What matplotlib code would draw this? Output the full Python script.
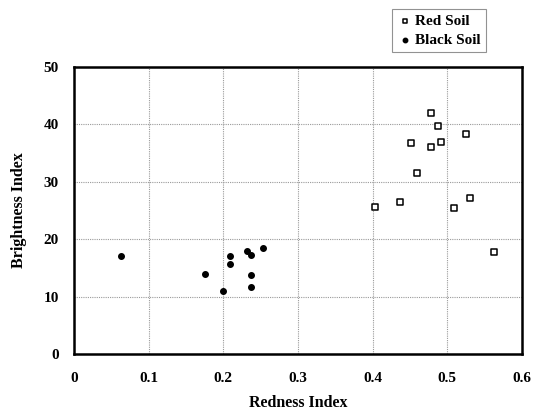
import matplotlib
matplotlib.use("Agg")
import matplotlib.pyplot as plt

plt.rcParams['font.family'] = ['Liberation Serif', 'DejaVu Serif']
plt.rcParams['font.weight'] = 'bold'

red_x = [0.478, 0.487, 0.525, 0.451, 0.491, 0.478, 0.460, 0.403, 0.437, 0.509, 0.530, 0.562]
red_y = [41.9, 39.7, 38.3, 36.7, 37.0, 36.1, 31.6, 25.6, 26.5, 25.5, 27.1, 17.8]

black_x = [0.063, 0.176, 0.199, 0.209, 0.209, 0.232, 0.237, 0.237, 0.237, 0.253]
black_y = [17.0, 14.0, 11.0, 17.0, 15.6, 18.0, 17.2, 13.8, 11.6, 18.5]

x_ticks = [0, 0.1, 0.2, 0.3, 0.4, 0.5, 0.6]
x_labels = ['0', '0.1', '0.2', '0.3', '0.4', '0.5', '0.6']
y_ticks = [0, 10, 20, 30, 40, 50]

fig = plt.figure(figsize=(5.39, 4.13), dpi=100)
ax = fig.add_axes([74/539, 59/413, 448/539, 287/413])

ax.scatter(red_x, red_y, marker='s', s=20, facecolors='white', edgecolors='black',
           linewidths=1.1, label='Red Soil', zorder=3)
ax.scatter(black_x, black_y, marker='o', s=16, color='black', label='Black Soil', zorder=3)

ax.set_xlim(0, 0.6)
ax.set_ylim(0, 50)
ax.set_xticks(x_ticks)
ax.set_xticklabels(x_labels)
ax.set_yticks(y_ticks)
ax.grid(True, color='#9a9a9a', linestyle=(0, (1, 1)), linewidth=0.8)
ax.set_axisbelow(True)
ax.tick_params(axis='x', length=0, pad=13, labelsize=11)
ax.tick_params(axis='y', length=0, pad=11, labelsize=11)
for lab in ax.get_xticklabels() + ax.get_yticklabels():
    lab.set_fontweight('bold')
for sp in ax.spines.values():
    sp.set_linewidth(1.8)
    sp.set_color('black')

ax.set_xlabel('Redness Index', fontsize=11.5, fontweight='bold', labelpad=7)
ax.set_ylabel('Brightness Index', fontsize=11.5, fontweight='bold', labelpad=12)

leg = fig.legend(loc='upper left', bbox_to_anchor=(384/539, 1 - 1/413),
                 frameon=True, fancybox=False, edgecolor='#777777',
                 prop={'family': 'Liberation Serif', 'weight': 'bold', 'size': 11},
                 handletextpad=0.2, borderpad=0.35, labelspacing=0.35, handlelength=1.0,
                 markerscale=0.8)
leg.get_frame().set_linewidth(0.8)

fig.savefig('out.png', dpi=100)
